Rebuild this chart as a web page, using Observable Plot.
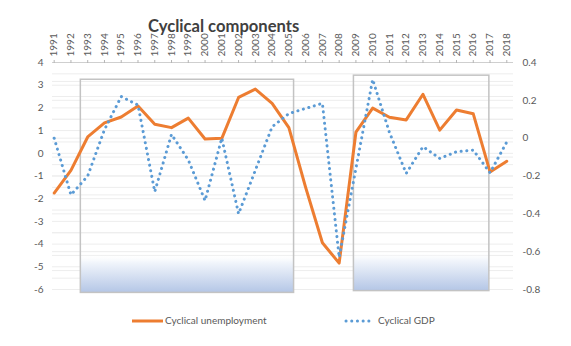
<!DOCTYPE html>
<html><head><meta charset="utf-8">
<script src="https://cdn.jsdelivr.net/npm/d3@7"></script>
<script src="https://cdn.jsdelivr.net/npm/@observablehq/plot@0.6"></script>
<style>
body{margin:0;background:#fff;font-family:Lato,"Open Sans",sans-serif;}
#wrap{position:relative;width:571px;height:346px;overflow:hidden;}
#title{position:absolute;left:148px;top:18px;font-weight:bold;font-size:16.6px;line-height:17px;color:#404040;white-space:nowrap;}
.leg{position:absolute;top:313px;font-size:10px;line-height:14px;color:#595959;white-space:nowrap;}
.leg svg{vertical-align:middle;}
</style></head><body>
<div id="wrap">
<div id="chart"></div>
<div id="title">Cyclical components</div>
<div class="leg" style="left:132px"><svg width="33" height="14"><line x1="0" x2="31" y1="7" y2="7" stroke="#ED7D31" stroke-width="3"/></svg>Cyclical unemployment</div>
<div class="leg" style="left:344px"><svg width="34" height="14"><line x1="2" x2="30" y1="7" y2="7" stroke="#5B9BD5" stroke-width="3" stroke-linecap="round" stroke-dasharray="0.1 5.6"/></svg>Cyclical GDP</div>
</div>
<script>
const years = [1991,1992,1993,1994,1995,1996,1997,1998,1999,2000,2001,2002,2003,2004,2005,2006,2007,2008,2009,2010,2011,2012,2013,2014,2015,2016,2017,2018];
const unemployment = [-1.75,-0.75,0.72,1.34,1.6,2.08,1.28,1.13,1.55,0.63,0.66,2.46,2.83,2.2,1.13,-1.5,-3.94,-4.84,0.93,1.99,1.59,1.47,2.6,1.02,1.91,1.74,-0.82,-0.35];
const gdp = [0.0,-0.30,-0.2,0.045,0.22,0.175,-0.283,0.02,-0.115,-0.33,0.0,-0.40,-0.17,0.06,0.13,0.157,0.184,-0.63,-0.16,0.31,0.03,-0.186,-0.045,-0.107,-0.072,-0.063,-0.183,-0.02];
const leftTicks = [-6,-5,-4,-3,-2,-1,0,1,2,3,4];
const rightTicks = [-0.8,-0.6,-0.4,-0.2,0,0.2,0.4];
const leftGrid = [-6,-5.5,-5,-4.5,-4,-3.5,-3,-2.5,-2,-1.5,-1,-0.5,0,0.5,1,1.5,2,2.5,3,3.5];
const rightGrid = [-0.8,-0.7,-0.6,-0.5,-0.4,-0.3,-0.2,-0.1,0,0.1,0.2,0.3];
const periodStart = [1992.59, 2008.88];
const periodEnd = [2005.31, 2016.96];
const periodTop = [3.24, 3.42];
const periodBottom = [-6.15, -6.07];

const toL = r => -6 + (r + 0.8) * 10 / 1.2;
const fromL = l => (l + 6) * 1.2 / 10 - 0.8;
const fmtR = v => String(Math.round(v * 10) / 10);

const rows = years.map((y, i) => ({year: y, u: unemployment[i], g: toL(gdp[i])}));
const periods = periodStart.map((s, i) => ({start: s, end: periodEnd[i], top: periodTop[i], bottom: periodBottom[i]}));

const chart = Plot.plot({
  width: 571, height: 346,
  marginLeft: 52, marginRight: 58, marginTop: 62, marginBottom: 57,
  style: {fontFamily: "Lato, 'Open Sans', sans-serif", background: "transparent"},
  x: {domain: [1990.9, 2018.4], label: null},
  y: {domain: [-6, 4], label: null},
  marks: [
    Plot.ruleY(leftGrid, {stroke: "#ededed", strokeWidth: 1}),
    Plot.ruleY(rightGrid.map(toL), {stroke: "#ededed", strokeWidth: 1}),
    Plot.ruleY([4], {stroke: "#cfcfcf", strokeWidth: 1}),
    Plot.rect(periods, {x1: "start", x2: "end", y1: "bottom", y2: "top", fill: "url(#boxgrad)", stroke: "#c3c3c3", strokeWidth: 1.5}),
    Plot.axisX(years, {anchor: "top", tickSize: 3, tickFormat: () => "", color: "#b5b5b5", label: null}),
    Plot.axisX(years, {anchor: "top", tickSize: 0, tickPadding: 6, tickRotate: -90, tickFormat: d => String(d), fontSize: 10, color: "#595959", label: null}),
    Plot.axisY(leftTicks, {anchor: "left", tickSize: 0, tickPadding: 9, tickFormat: d => String(d), fontSize: 10, color: "#595959", label: null}),
    Plot.axisY(rightTicks.map(toL), {anchor: "right", tickSize: 0, tickPadding: 9, tickFormat: d => fmtR(fromL(d)), fontSize: 10, color: "#595959", label: null}),
    Plot.line(rows, {x: "year", y: "u", stroke: "#ED7D31", strokeWidth: 3, strokeLinejoin: "round", strokeLinecap: "round"}),
    Plot.line(rows, {x: "year", y: "g", stroke: "#5B9BD5", strokeWidth: 3, strokeDasharray: "0.1 5.6", strokeLinecap: "round", strokeLinejoin: "round"})
  ]
});

const svg = d3.select(chart);
const defs = svg.insert("defs", ":first-child");
const grad = defs.append("linearGradient").attr("id", "boxgrad").attr("x1", 0).attr("x2", 0).attr("y1", 0).attr("y2", 1);
grad.append("stop").attr("offset", 0).attr("stop-color", "#ffffff").attr("stop-opacity", 0);
grad.append("stop").attr("offset", 0.82).attr("stop-color", "#ffffff").attr("stop-opacity", 0);
grad.append("stop").attr("offset", 0.86).attr("stop-color", "#f1f5fb").attr("stop-opacity", 1);
grad.append("stop").attr("offset", 1).attr("stop-color", "#b4c6e6").attr("stop-opacity", 1);
document.getElementById("chart").appendChild(chart);
</script>
</body></html>
